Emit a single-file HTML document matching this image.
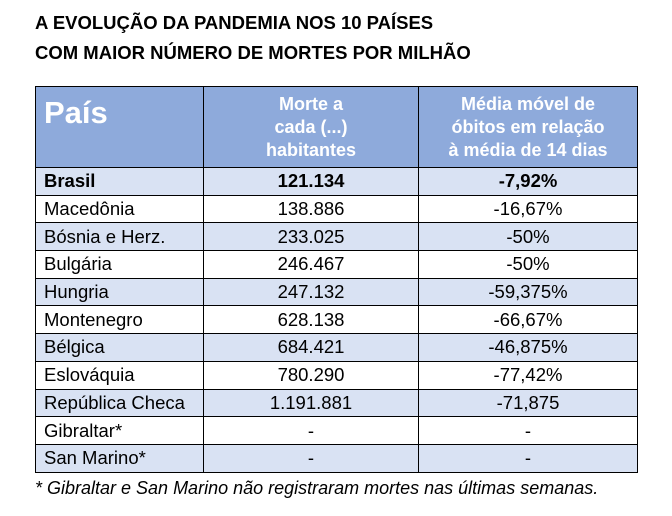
<!DOCTYPE html>
<html><head><meta charset="utf-8"><style>
body{margin:0;width:672px;height:516px;background:#fff;font-family:"Liberation Sans",sans-serif;position:relative;overflow:hidden}
.t{position:absolute;left:35px;font-weight:bold;font-size:18.5px;color:#000}
table{position:absolute;left:35px;top:86px;border-collapse:collapse;table-layout:fixed}
td{border:1.3px solid #000;height:26.7px;padding:0 0 0 8px;font-size:18.5px;line-height:20px}
td.c{text-align:center;padding:0}
tr.h td{background:#8eaadb;color:#fff;font-weight:bold;height:80px;font-size:18px}
tr.a td{background:#d9e2f3}
.f{position:absolute;left:35px;top:478px;font-style:italic;font-size:18px}
</style></head><body>
<div class="t" style="top:12px">A EVOLUÇÃO DA PANDEMIA NOS 10 PAÍSES</div>
<div class="t" style="top:42px">COM MAIOR NÚMERO DE MORTES POR MILHÃO</div>
<table>
<colgroup><col style="width:168px"><col style="width:215px"><col style="width:219px"></colgroup>
<tr class="h"><td style="font-size:31px;vertical-align:top;padding-top:16px;height:64px">País</td><td class="c" style="line-height:23px">Morte a<br>cada (...)<br>habitantes</td><td class="c" style="line-height:23px">Média móvel de<br>óbitos em relação<br>à média de 14 dias</td></tr>
<tr class="a" style="font-weight:bold"><td><b>Brasil</b></td><td class="c"><b>121.134</b></td><td class="c"><b>-7,92%</b></td></tr>
<tr><td>Macedônia</td><td class="c">138.886</td><td class="c">-16,67%</td></tr>
<tr class="a"><td>Bósnia e Herz.</td><td class="c">233.025</td><td class="c">-50%</td></tr>
<tr><td>Bulgária</td><td class="c">246.467</td><td class="c">-50%</td></tr>
<tr class="a"><td>Hungria</td><td class="c">247.132</td><td class="c">-59,375%</td></tr>
<tr><td>Montenegro</td><td class="c">628.138</td><td class="c">-66,67%</td></tr>
<tr class="a"><td>Bélgica</td><td class="c">684.421</td><td class="c">-46,875%</td></tr>
<tr><td>Eslováquia</td><td class="c">780.290</td><td class="c">-77,42%</td></tr>
<tr class="a"><td>República Checa</td><td class="c">1.191.881</td><td class="c">-71,875</td></tr>
<tr><td>Gibraltar*</td><td class="c">-</td><td class="c">-</td></tr>
<tr class="a"><td>San Marino*</td><td class="c">-</td><td class="c">-</td></tr>
</table>
<div class="f">* Gibraltar e San Marino não registraram mortes nas últimas semanas.</div>
</body></html>
